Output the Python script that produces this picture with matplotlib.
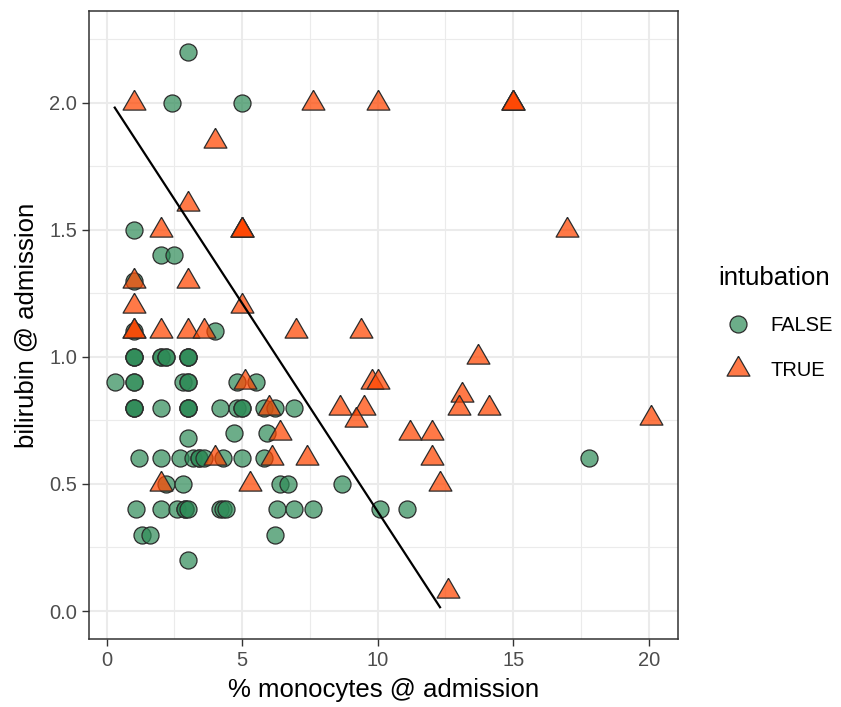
import matplotlib
matplotlib.use("Agg")
import matplotlib.pyplot as plt
from matplotlib.ticker import MultipleLocator
from matplotlib.lines import Line2D

plt.rcParams['font.family'] = ['Liberation Sans', 'DejaVu Sans']

# intubation == FALSE
false_x = [3, 2.4, 5, 1, 2, 2.5, 1, 1, 4,
           1, 1, 1, 2, 2, 2.2, 2.2, 3, 3, 3,
           0.3, 1, 1, 2.8, 3, 3, 4.8, 5.5,
           1, 1, 1, 2, 3, 3, 3, 4.2, 4.8, 5, 5, 5.8, 6.2, 6.9,
           3, 4.7, 5.9,
           1.2, 2, 2.7, 3.2, 3.4, 3.4, 3.6, 4.3, 5, 5.8, 17.8,
           2.2, 2.8, 6.4, 6.7, 8.7,
           1.1, 2, 2.6, 2.9, 2.9, 3, 4.2, 4.3, 4.4, 6.3, 6.9, 7.6, 10.1, 11.1,
           1.3, 1.6, 6.2,
           3]
false_y = [2.2, 2.0, 2.0, 1.5, 1.4, 1.4, 1.3, 1.1, 1.1,
           1.0, 1.0, 1.0, 1.0, 1.0, 1.0, 1.0, 1.0, 1.0, 1.0,
           0.9, 0.9, 0.9, 0.9, 0.9, 0.9, 0.9, 0.9,
           0.8, 0.8, 0.8, 0.8, 0.8, 0.8, 0.8, 0.8, 0.8, 0.8, 0.8, 0.8, 0.8, 0.8,
           0.68, 0.7, 0.7,
           0.6, 0.6, 0.6, 0.6, 0.6, 0.6, 0.6, 0.6, 0.6, 0.6, 0.6,
           0.5, 0.5, 0.5, 0.5, 0.5,
           0.4, 0.4, 0.4, 0.4, 0.4, 0.4, 0.4, 0.4, 0.4, 0.4, 0.4, 0.4, 0.4, 0.4,
           0.3, 0.3, 0.3,
           0.2]

# intubation == TRUE
true_x = [1, 7.6, 10, 15, 15, 15,
          4, 3,
          2, 5, 5, 5, 17,
          1, 3, 1, 5,
          1, 1, 2, 3, 3.6, 7, 9.4,
          13.7,
          9.8, 10, 5.1, 13.1,
          8.6, 9.5, 13, 14.1, 6.0,
          9.2, 20.1,
          6.4, 11.2, 12,
          4, 6.1, 7.4, 12,
          2, 5.3, 12.3,
          12.6]
true_y = [2.0, 2.0, 2.0, 2.0, 2.0, 2.0,
          1.85, 1.6,
          1.5, 1.5, 1.5, 1.5, 1.5,
          1.3, 1.3, 1.2, 1.2,
          1.1, 1.1, 1.1, 1.1, 1.1, 1.1, 1.1,
          1.0,
          0.9, 0.9, 0.9, 0.85,
          0.8, 0.8, 0.8, 0.8, 0.8,
          0.75, 0.76,
          0.7, 0.7, 0.7,
          0.6, 0.6, 0.6, 0.6,
          0.5, 0.5, 0.5,
          0.08]

# fitted line end points
line_x = [0.3, 12.3]
line_y = [1.98, 0.015]

green = (46/255, 139/255, 87/255, 0.7)
orange = (1.0, 69/255, 0.0, 0.72)
edge = '#2b2b2b'
# triangle centred on its centroid, like R's pch 24
tri = [(0, 1), (-0.866, -0.5), (0.866, -0.5), (0, 1)]

fig = plt.figure(figsize=(8.41, 7.07), dpi=100)
ax = fig.add_axes([89/841, 1 - 639/707, (678-89)/841, (639-11)/707])

ax.scatter(false_x, false_y, s=150, marker='o', facecolor=green,
           edgecolor=edge, linewidth=0.9, zorder=3)
ax.scatter(true_x, true_y, s=360, marker=tri, facecolor=orange,
           edgecolor=edge, linewidth=0.9, zorder=3)
ax.plot(line_x, line_y, color='black', linewidth=1.6, zorder=4)

ax.set_xlim(-0.65, 21.08)
ax.set_ylim(-0.11, 2.36)
ax.xaxis.set_major_locator(MultipleLocator(5))
ax.xaxis.set_minor_locator(MultipleLocator(2.5))
ax.yaxis.set_major_locator(MultipleLocator(0.5))
ax.yaxis.set_minor_locator(MultipleLocator(0.25))
ax.yaxis.set_major_formatter(matplotlib.ticker.FormatStrFormatter('%.1f'))

ax.grid(which='major', color='#EBEBEB', linewidth=1.5, zorder=0)
ax.grid(which='minor', color='#EBEBEB', linewidth=0.8, zorder=0)
ax.set_axisbelow(True)
for sp in ax.spines.values():
    sp.set_color('#333333')
    sp.set_linewidth(1.1)
ax.tick_params(which='major', length=4.7, width=1.0, color='#333333',
               labelsize=14.5, labelcolor='#4D4D4D', pad=4)
ax.tick_params(which='minor', length=0)

ax.set_xlabel('% monocytes @ admission', fontsize=18.5, labelpad=6)
ax.set_ylabel('bilirubin @ admission', fontsize=18.5, labelpad=8)

handles = [
    Line2D([], [], linestyle='none', marker='o', markersize=12.2,
           markerfacecolor=green, markeredgecolor=edge, markeredgewidth=0.9),
    Line2D([], [], linestyle='none', marker=tri, markersize=19,
           markerfacecolor=orange, markeredgecolor=edge, markeredgewidth=0.9),
]
leg = fig.legend(handles, ['FALSE', 'TRUE'], title='intubation',
                 loc='upper left', bbox_to_anchor=(700/841, 1 - 248/707),
                 frameon=False, fontsize=14.5, title_fontsize=18.5,
                 handletextpad=0.6, labelspacing=1.3, alignment='left')

fig.savefig('out.png', dpi=100)
